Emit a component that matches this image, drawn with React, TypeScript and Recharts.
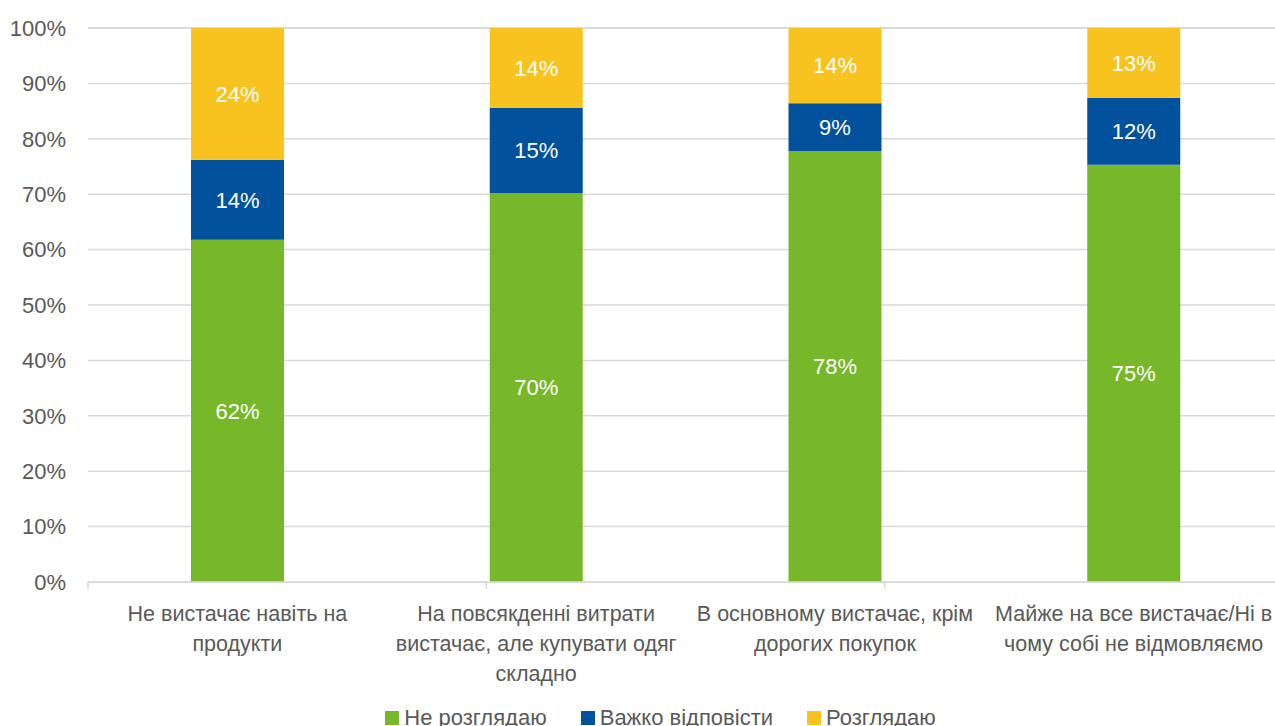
import { BarChart, Bar, XAxis, YAxis, CartesianGrid, Legend, LabelList } from 'recharts'

const categories = [
  'Не вистачає навіть на\nпродукти',
  'На повсякденні витрати\nвистачає, але купувати одяг\nскладно',
  'В основному вистачає, крім\nдорогих покупок',
  'Майже на все вистачає/Ні в\nчому собі не відмовляємо',
]
const notConsidering = [61.8, 70.2, 77.8, 75.3]
const hardToSay = [14.4, 15.4, 8.6, 12.1]
const considering = [23.8, 14.4, 13.6, 12.6]
const yTicks = [0, 10, 20, 30, 40, 50, 60, 70, 80, 90, 100]

const series = [
  { key: 'notConsidering', name: 'Не розглядаю', color: '#76B82A' },
  { key: 'hardToSay', name: 'Важко відповісти', color: '#02519C' },
  { key: 'considering', name: 'Розглядаю', color: '#F9C31F' },
]

const data = categories.map((cat, i) => ({
  cat,
  notConsidering: notConsidering[i],
  hardToSay: hardToSay[i],
  considering: considering[i],
}))

// boundaries between categories, drawn by a hidden numeric axis
const edgeTicks = Array.from({ length: categories.length + 1 }, (_, i) => i)

const TEXT = '#595959'
const GRID = '#D9D9D9'

function CategoryTick({ x, y, payload }: any) {
  const lines = String(payload.value).split('\n')
  return (
    <text x={x} y={y} textAnchor="middle" fill={TEXT} fontSize={21.5}>
      {lines.map((line, i) => (
        <tspan key={i} x={x} y={y + 38 + i * 30}>
          {line}
        </tspan>
      ))}
    </text>
  )
}

function LegendContent() {
  return (
    <div style={{ display: 'flex', justifyContent: 'center', paddingLeft: 38, gap: 34, fontSize: 22, color: TEXT, lineHeight: '24px' }}>
      {series.map((s) => (
        <div key={s.key} style={{ display: 'flex', alignItems: 'center', gap: 5 }}>
          <span style={{ width: 14, height: 14, background: s.color, display: 'inline-block' }} />
          <span>{s.name}</span>
        </div>
      ))}
    </div>
  )
}

export default function App() {
  return (
    <div
      style={{
        position: 'fixed',
        left: 0,
        top: 0,
        width: 1275,
        height: 726,
        overflow: 'hidden',
        background: '#fff',
        fontFamily: "'Liberation Sans', Arial, sans-serif",
      }}
    >
      <BarChart width={1290} height={740} data={data} margin={{ top: 28, right: 7, bottom: 10, left: 0 }}>
        <CartesianGrid vertical={false} stroke={GRID} strokeWidth={1.5} xAxisId="a" />
        <XAxis
          xAxisId="b"
          dataKey="cat"
          height={123}
          axisLine={false}
          tickLine={false}
          tickSize={0}
          tickMargin={0}
          interval={0}
          tick={<CategoryTick />}
        />
        <XAxis
          xAxisId="a"
          type="number"
          domain={[0, categories.length]}
          ticks={edgeTicks}
          tick={() => <g />}
          tickLine={{ stroke: GRID, strokeWidth: 1.5 }}
          tickSize={7}
          height={1}
          axisLine={{ stroke: GRID, strokeWidth: 1.5 }}
          allowDataOverflow
        />
        <YAxis
          domain={[0, 100]}
          ticks={yTicks}
          tickFormatter={(v) => `${v}%`}
          axisLine={false}
          tickLine={false}
          tickMargin={16}
          width={88}
          tick={{ fill: TEXT, fontSize: 22 }}
        />
        <Legend verticalAlign="bottom" height={24} content={<LegendContent />} />
        {series.map((s) => (
          <Bar key={s.key} xAxisId="b" dataKey={s.key} name={s.name} stackId="a" fill={s.color} barSize={93} isAnimationActive={false}>
            <LabelList dataKey={s.key} position="center" fill="#fff" fontSize={22} formatter={(v: any) => `${Math.round(Number(v))}%`} />
          </Bar>
        ))}
      </BarChart>
    </div>
  )
}
